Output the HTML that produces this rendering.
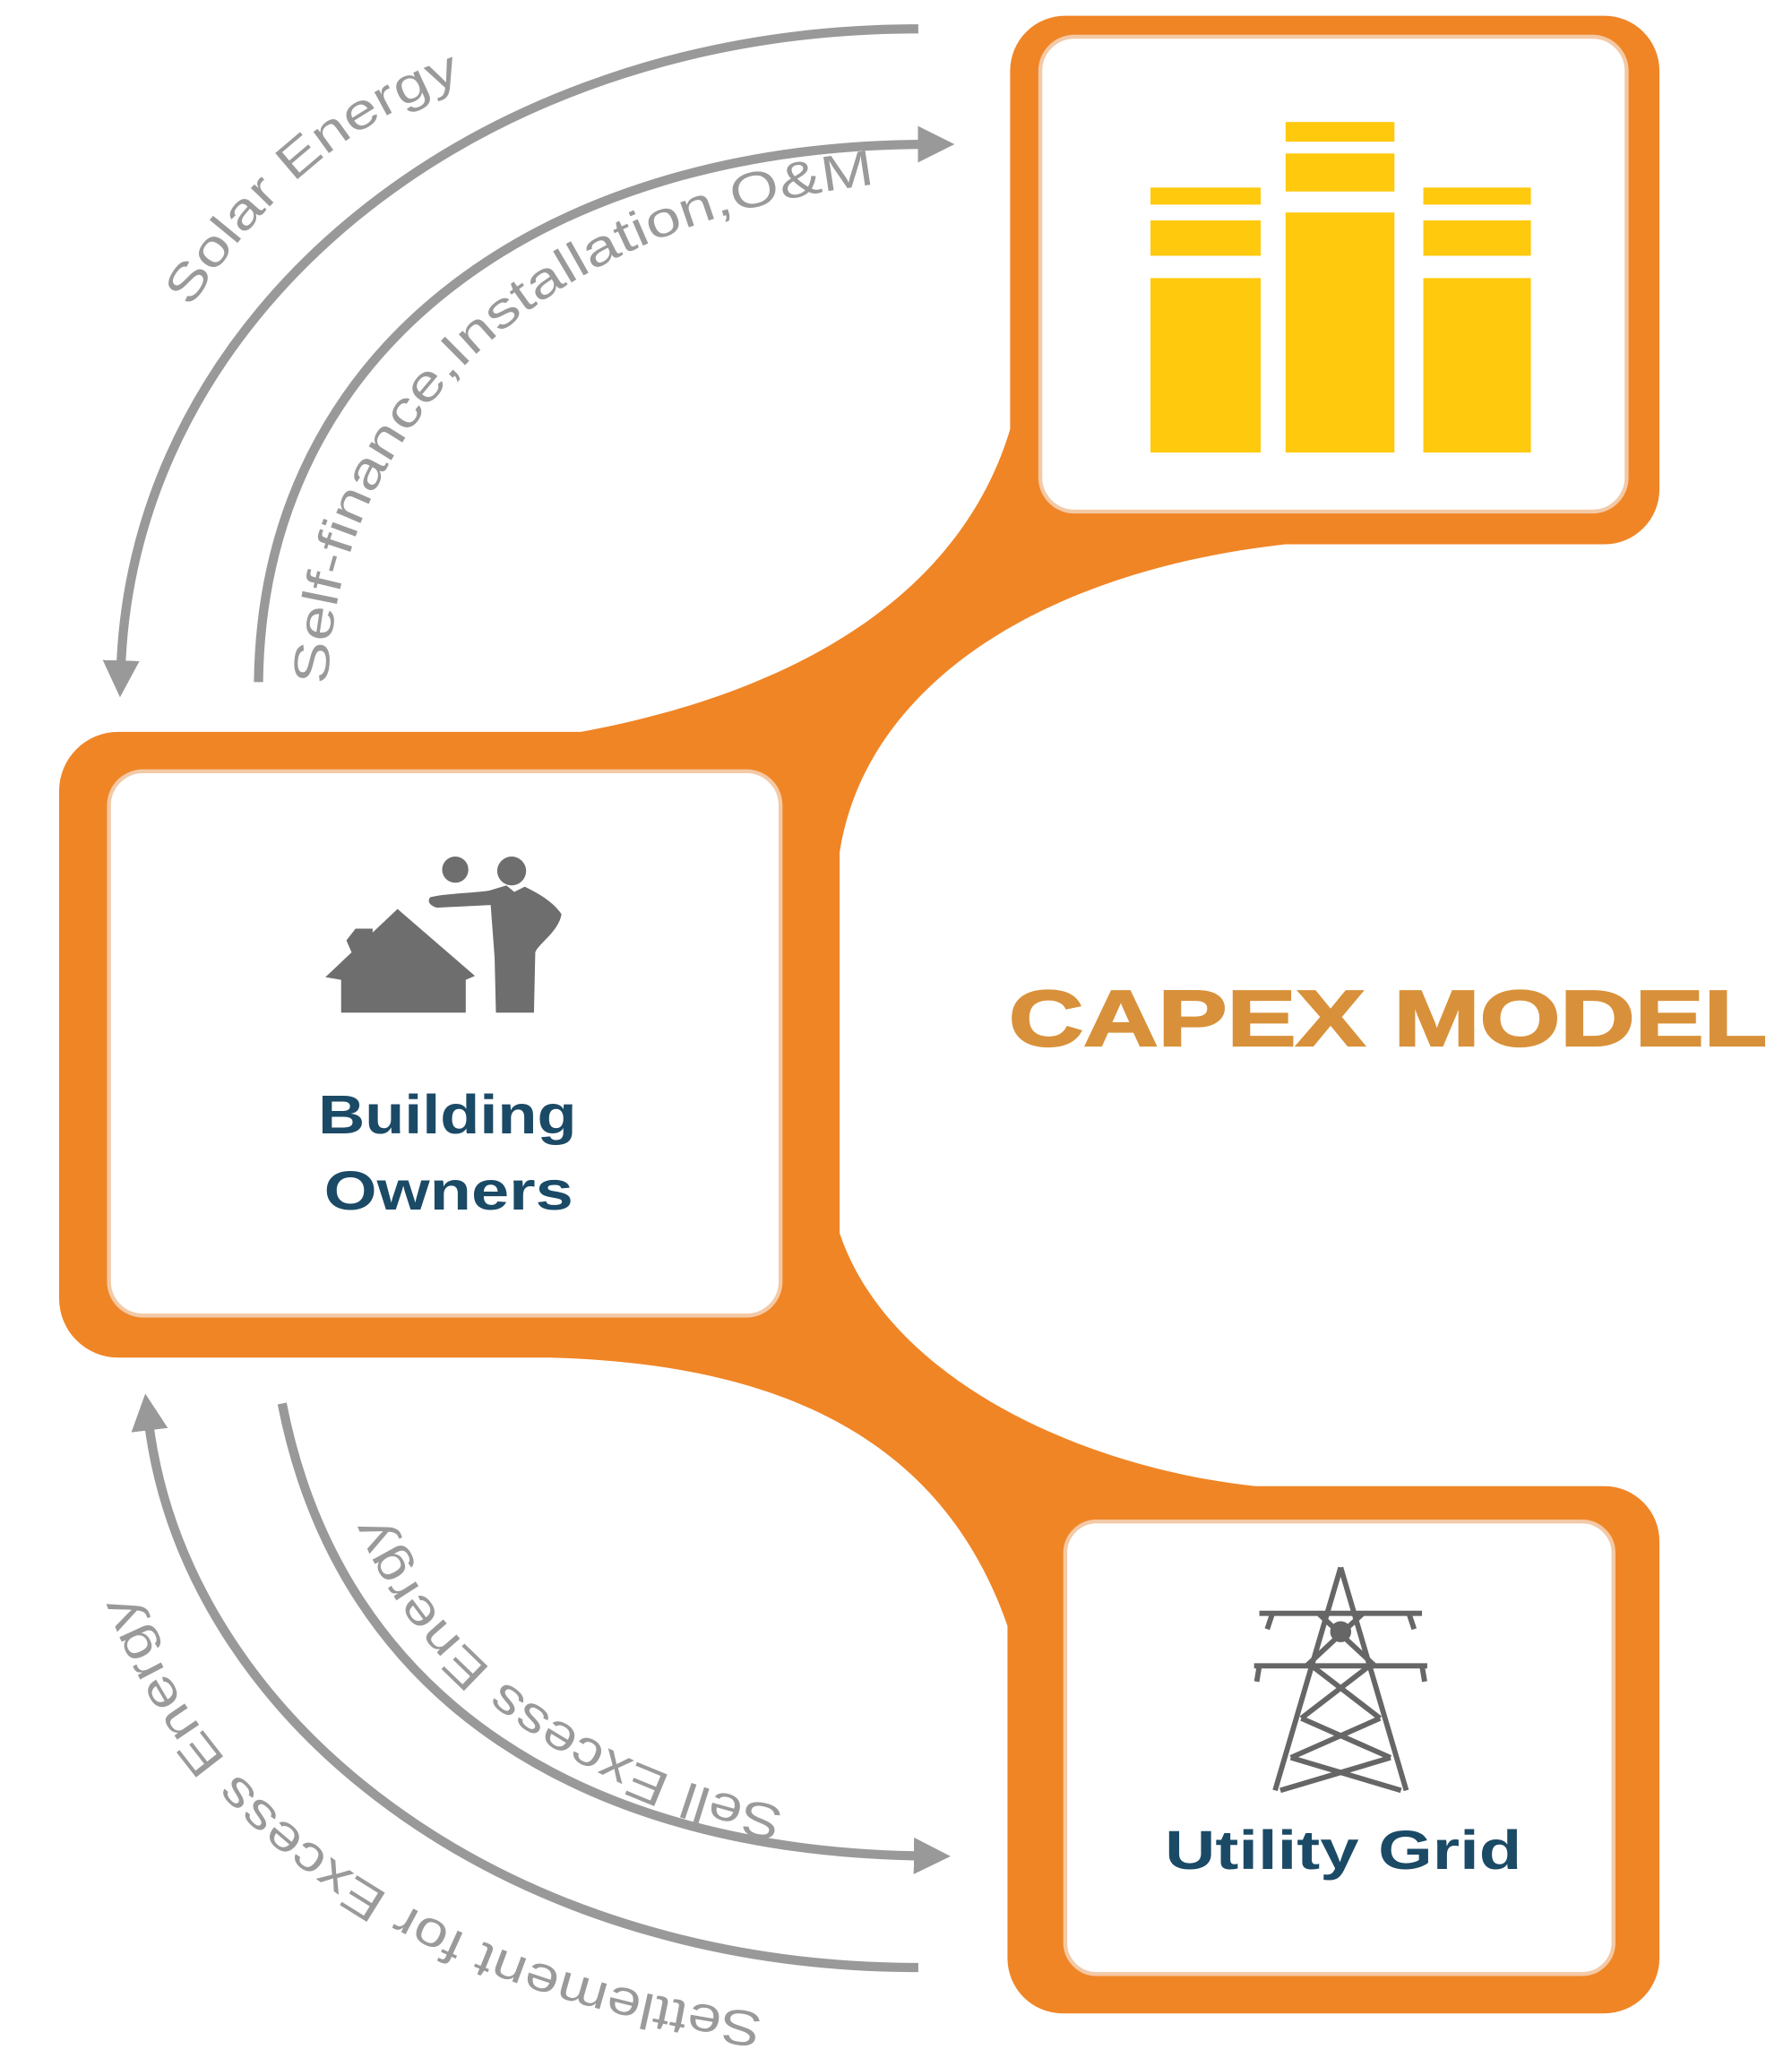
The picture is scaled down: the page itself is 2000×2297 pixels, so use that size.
<!DOCTYPE html>
<html><head><meta charset="utf-8"><style>html,body{margin:0;padding:0;background:#fff}svg{display:block}</style></head>
<body>
<svg width="2000" height="2297" viewBox="0 0 1366 1569" xmlns="http://www.w3.org/2000/svg">
<defs>
<marker id="ah" viewBox="0 0 10 10" refX="3" refY="5" markerWidth="4" markerHeight="4" orient="auto" markerUnits="strokeWidth">
<path d="M0 0 L10 5 L0 10 Z" fill="#999"/></marker>
<path id="p1" d="M 145 235 C 200 150 270 85 375 55"/>
<path id="p2" d="M 250 522 C 255 330 405 165 690 138"/>
<path id="p3" d="M 598 1378 C 450 1350 320 1260 283 1132"/>
<path id="p4" d="M 582 1535 C 340 1505 140 1390 86 1170"/>
</defs>
<rect width="1366" height="1569" fill="#fff"/>
<path d="M 420 562 C 620 530 760 440 780 280 L 1000 413 C 800 430 660 520 640 650 L 640 940 C 680 1060 850 1132 1000 1136 L 775 1262 C 730 1100 600 1040 420 1035 Z" fill="#F08526"/>
<rect x="770" y="12" width="495" height="403" rx="42" fill="#F08526"/>
<rect x="793" y="28" width="447" height="362" rx="26" fill="#fff" stroke="#f3c9a6" stroke-width="3"/>
<rect x="45" y="558" width="595" height="477" rx="45" fill="#F08526"/>
<rect x="83" y="588" width="512" height="415" rx="26" fill="#fff" stroke="#f3c9a6" stroke-width="3"/>
<rect x="768" y="1133" width="497" height="402" rx="42" fill="#F08526"/>
<rect x="812" y="1160" width="418" height="345" rx="24" fill="#fff" stroke="#f3c9a6" stroke-width="3"/>
<g fill="#FFC90E">
<rect x="877" y="143" width="84" height="13"/><rect x="877" y="168" width="84" height="27"/><rect x="877" y="212" width="84" height="133"/>
<rect x="980" y="93" width="83" height="15"/><rect x="980" y="117" width="83" height="29"/><rect x="980" y="162" width="83" height="183"/>
<rect x="1085" y="143" width="82" height="13"/><rect x="1085" y="168" width="82" height="27"/><rect x="1085" y="212" width="82" height="133"/>
</g>
<g fill="#6e6e6e">
<polygon points="264,717 271,708 284,708 284,720 271,733"/>
<polygon points="248,745 303,693 362,744 355,747 355,772 260,772 260,747"/>
<circle cx="347" cy="663" r="10"/>
<circle cx="390" cy="664" r="11"/>
<path d="M 328 684 C 340 681 360 681 373 679 L 386 675 L 392 680 L 400 676 C 412 682 422 688 428 697 C 426 710 410 720 408 726 L 407 772 L 378 772 L 377 730 L 374 690 L 333 692 C 326 690 326 686 328 684 Z"/>
</g>
<g stroke="#666" stroke-width="4" fill="none" stroke-linejoin="round">
<path d="M1022 1195 L972 1365 M1022 1195 L1072 1365"/>
<path d="M960 1230 L1084 1230 M956 1270 L1088 1270 M970 1230 L966 1242 M1074 1230 L1078 1242 M960 1270 L958 1282 M1084 1270 L1086 1282"/>
<path d="M1005 1230 L1048 1270 M1039 1230 L996 1270 M1000 1270 L1052 1310 M1044 1270 L992 1310 M992 1310 L1060 1340 M1052 1310 L984 1340 M984 1340 L1068 1365 M1060 1340 L976 1365"/>
<circle cx="1022" cy="1244" r="6" fill="#666"/>
</g>
<g stroke="#999" stroke-width="7" fill="none">
<path d="M 700 22 C 360 22 100 240 92 512" marker-end="url(#ah)"/>
<path d="M 197 520 C 200 260 420 110 708 110" marker-end="url(#ah)"/>
<path d="M 215 1070 C 260 1300 450 1412 705 1415" marker-end="url(#ah)"/>
<path d="M 700 1500 C 380 1500 140 1310 113 1082" marker-end="url(#ah)"/>
</g>
<g font-family="Liberation Sans, sans-serif" font-size="38" fill="#9a9a9a">
<text><textPath href="#p1" textLength="275" lengthAdjust="spacingAndGlyphs">Solar Energy</textPath></text>
<text><textPath href="#p2" textLength="620" lengthAdjust="spacingAndGlyphs">Self-finance,Installation,O&amp;M</textPath></text>
<text><textPath href="#p3" textLength="395" lengthAdjust="spacingAndGlyphs">Sell Excess Energy</textPath></text>
<text><textPath href="#p4" textLength="610" lengthAdjust="spacingAndGlyphs">Settlement for Excess Energy</textPath></text>
</g>
<g font-family="Liberation Sans, sans-serif" font-weight="bold" fill="#1b4a66" text-anchor="middle">
<text x="341" y="864" font-size="42" textLength="197" lengthAdjust="spacingAndGlyphs">Building</text>
<text x="342" y="922" font-size="42" textLength="190" lengthAdjust="spacingAndGlyphs">Owners</text>
<text x="1024" y="1425" font-size="42" textLength="272" lengthAdjust="spacingAndGlyphs">Utility Grid</text>
</g>
<text x="1058" y="797" font-family="Liberation Sans, sans-serif" font-weight="bold" font-size="60" fill="#D8913A" stroke="#D8913A" stroke-width="1.5" text-anchor="middle" textLength="578" lengthAdjust="spacingAndGlyphs">CAPEX MODEL</text>
</svg>
</body></html>
